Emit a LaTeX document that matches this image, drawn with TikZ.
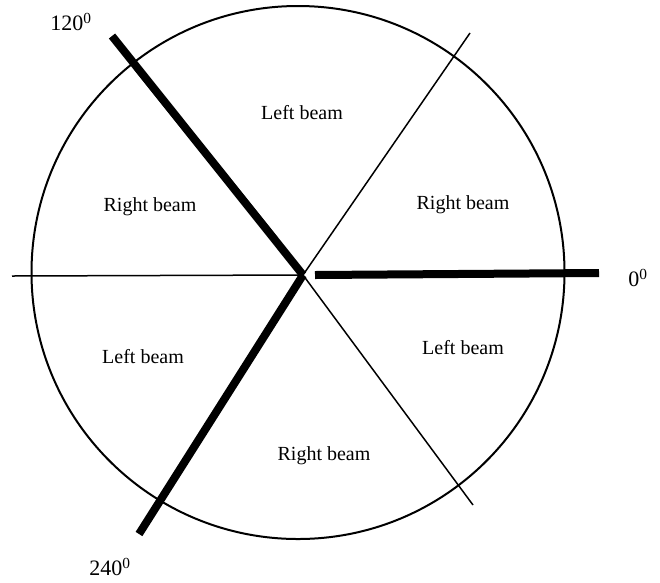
\documentclass[tikz,border=0pt]{standalone}
\usepackage{fontspec}
\setmainfont{Liberation Serif}
\begin{document}
\begin{tikzpicture}[x=1pt,y=-1pt,
  thickline/.style={line width=8pt},
  thinline/.style={line width=1.5pt},
  beamlabel/.style={font=\fontsize{20}{24}\selectfont, inner sep=0pt},
  deglabel/.style={font=\fontsize{22}{26}\selectfont, inner sep=0pt}]
\useasboundingbox (0,0) rectangle (660,582);
\node[draw, circle, line width=2pt, minimum size=533pt, inner sep=0pt] (circ) at (298,272.5) {};
\coordinate (c) at (303,275);
\coordinate (cr) at (315,275);
\coordinate (e0) at (599,273);
\coordinate (e120) at (112,36);
\coordinate (e240) at (139,534);
\coordinate (w) at (12,276);
\coordinate (ur) at (470,33);
\coordinate (lr) at (473,505);
\draw[thinline] (w) -- (c);
\draw[thinline] (c) -- (ur);
\draw[thinline] (c) -- (lr);
\draw[thickline] (cr) -- (e0);
\draw[thickline] (c) -- (e120);
\draw[thickline] (c) -- (e240);
\node[deglabel] (l120) at (71,22) {120\textsuperscript{0}};
\node[deglabel] (l0) at (638,278) {0\textsuperscript{0}};
\node[deglabel] (l240) at (110,567) {240\textsuperscript{0}};
\node[beamlabel] (b1) at (302,113) {Left beam};
\node[beamlabel] (b2) at (150,207) {Right beam};
\node[beamlabel] (b3) at (463,205) {Right beam};
\node[beamlabel] (b4) at (143,357) {Left beam};
\node[beamlabel] (b5) at (463,348) {Left beam};
\node[beamlabel] (b6) at (324,456) {Right beam};
\end{tikzpicture}
\end{document}
